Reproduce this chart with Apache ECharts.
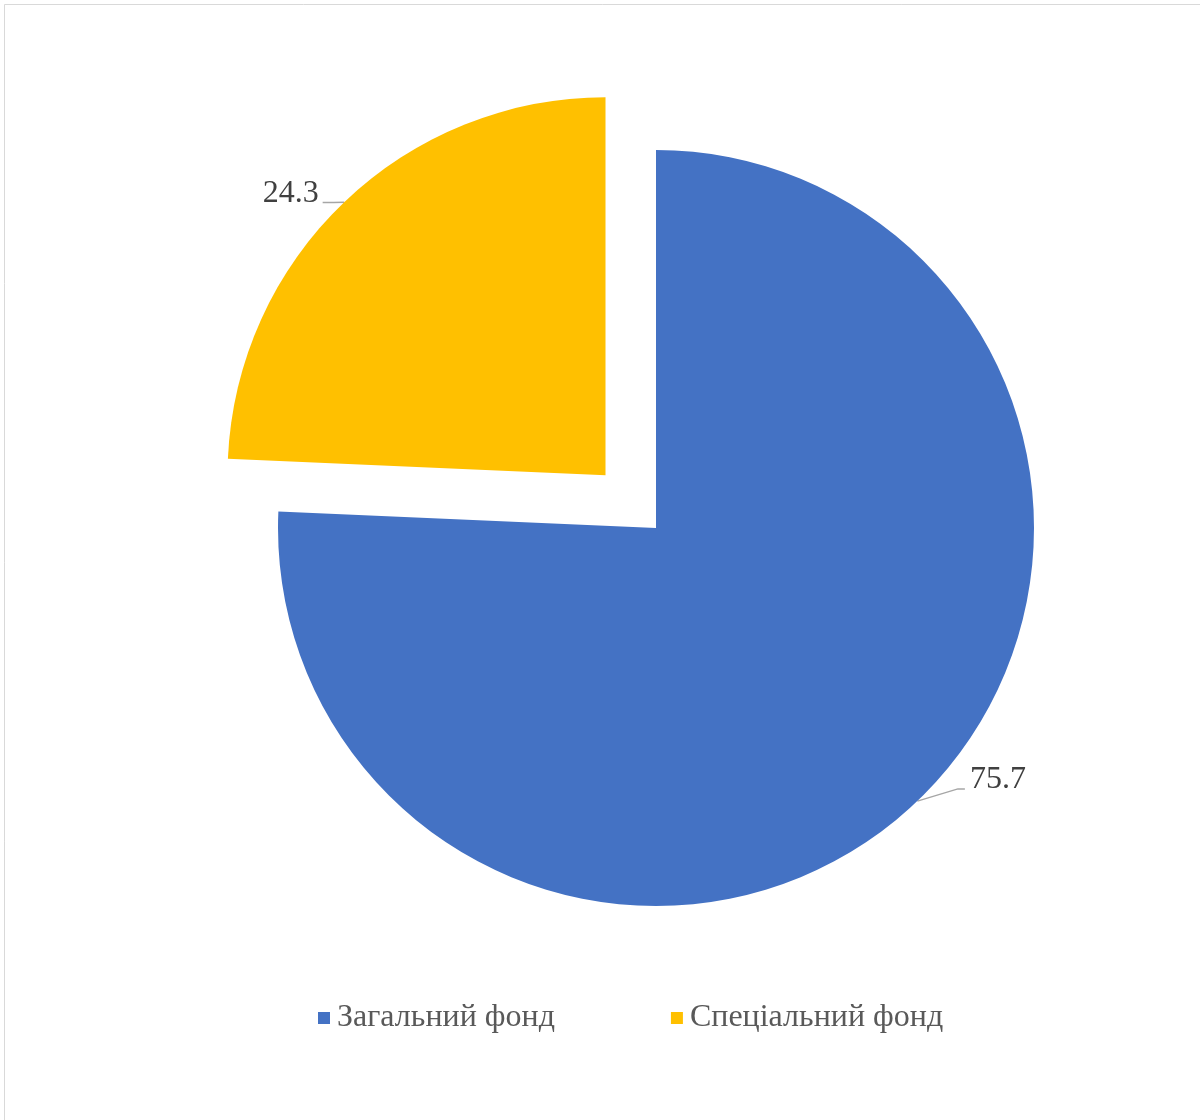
<!DOCTYPE html>
<html>
<head>
<meta charset="UTF-8">
<title>Фонди</title>
<script src="https://cdn.jsdelivr.net/npm/echarts@6/dist/echarts.min.js"></script>
<style>
    html, body { margin: 0; padding: 0; background: #fff; }
    #main { width: 1200px; height: 1120px; }
</style>
</head>
<body>
<div id="main"></div>
<script type="text/javascript">
    // дані
    var names = ['Загальний фонд', 'Спеціальний фонд'];
    var values = [75.7, 24.3];
    var colors = ['#4472C4', '#FFC000'];

    var myChart = echarts.init(document.getElementById('main'));

    var pieData = names.map(function (n, i) {
        return {
            name: n,
            value: values[i],
            selected: i === 1,
            itemStyle: { color: colors[i] }
        };
    });

    // зсув підписів, як в оригіналі (Excel)
    var shifts = [[30, -27], [-3, -3]];

    var option = {
        backgroundColor: '#fff',
        animation: false,
        graphic: [{
            type: 'rect',
            shape: { x: 4.5, y: 4.5, width: 1300, height: 1300 },
            style: { fill: 'none', stroke: '#d9d9d9', lineWidth: 1 }
        }],
        legend: {
            bottom: 81,
            left: 313,
            itemWidth: 12,
            itemHeight: 12,
            itemGap: 116,
            icon: 'rect',
            textStyle: {
                fontFamily: 'Liberation Serif',
                fontSize: 32,
                color: '#595959',
                padding: [0, 0, 0, 2]
            },
            data: names
        },
        series: [{
            type: 'pie',
            center: [656, 528],
            radius: 378,
            startAngle: 90,
            clockwise: true,
            selectedMode: 'single',
            selectedOffset: 73,
            label: {
                show: true,
                position: 'outside',
                formatter: '{c}',
                fontFamily: 'Liberation Serif',
                fontSize: 32,
                color: '#404040'
            },
            labelLine: {
                show: true,
                length: 8,
                length2: 12,
                lineStyle: { color: '#a6a6a6', width: 1.5 }
            },
            labelLayout: function (params) {
                var s = shifts[params.dataIndex];
                var r = params.labelRect;
                var x = r.x + s[0], y = r.y + s[1];
                var ly = y + r.height / 2 + 9;
                var p0 = params.labelLinePoints ? params.labelLinePoints[0] : null;
                var res = { dx: s[0], dy: s[1] };
                if (p0) {
                    if (p0[0] < x) {
                        res.labelLinePoints = [p0, [x - 12, ly], [x - 5, ly]];
                    } else {
                        res.labelLinePoints = [p0, [x + r.width + 15, ly], [x + r.width + 4, ly]];
                    }
                }
                return res;
            },
            emphasis: { disabled: true },
            data: pieData
        }]
    };

    myChart.setOption(option);
</script>
</body>
</html>
